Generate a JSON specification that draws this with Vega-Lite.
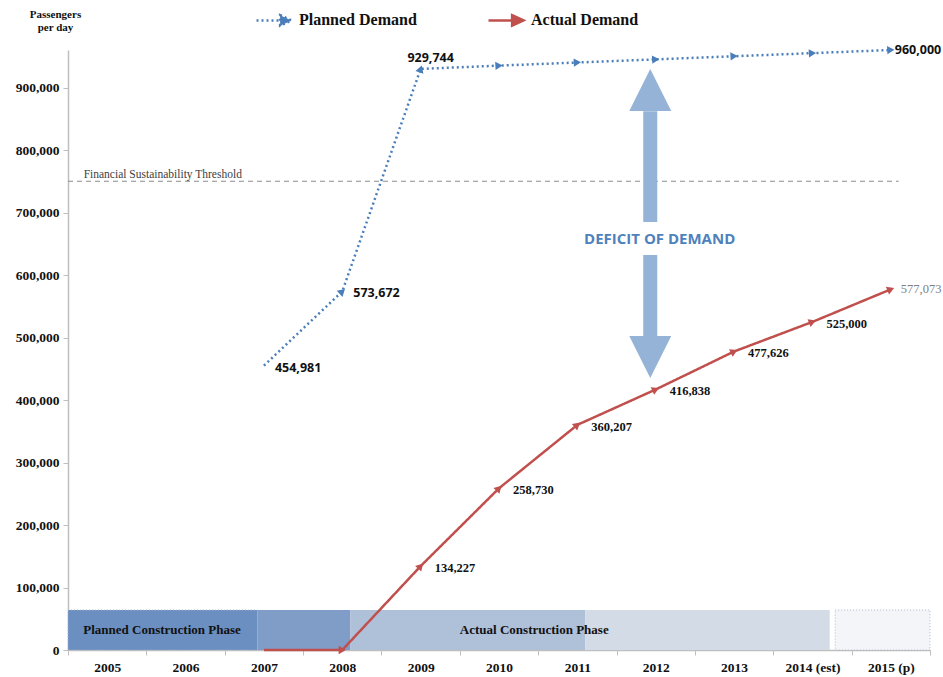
{
  "$schema": "https://vega.github.io/schema/vega-lite/v6.json",
  "width": 862,
  "height": 600,
  "autosize": {"type": "none"},
  "padding": {"left": 68, "top": 50, "right": 13, "bottom": 27},
  "background": "white",
  "config": {
    "view": {"stroke": null},
    "font": "Liberation Serif",
    "axis": {"grid": false}
  },
  "datasets": {
    "demand": [
      {"year": "2007", "series": "Planned Demand", "value": 454981},
      {"year": "2008", "series": "Planned Demand", "value": 573672},
      {"year": "2009", "series": "Planned Demand", "value": 929744},
      {"year": "2010", "series": "Planned Demand", "value": 935000},
      {"year": "2011", "series": "Planned Demand", "value": 940000},
      {"year": "2012", "series": "Planned Demand", "value": 945000},
      {"year": "2013", "series": "Planned Demand", "value": 950000},
      {"year": "2014 (est)", "series": "Planned Demand", "value": 955000},
      {"year": "2015 (p)", "series": "Planned Demand", "value": 960000},
      {"year": "2007", "series": "Actual Demand", "value": 0},
      {"year": "2008", "series": "Actual Demand", "value": 0},
      {"year": "2009", "series": "Actual Demand", "value": 134227},
      {"year": "2010", "series": "Actual Demand", "value": 258730},
      {"year": "2011", "series": "Actual Demand", "value": 360207},
      {"year": "2012", "series": "Actual Demand", "value": 416838},
      {"year": "2013", "series": "Actual Demand", "value": 477626},
      {"year": "2014 (est)", "series": "Actual Demand", "value": 525000},
      {"year": "2015 (p)", "series": "Actual Demand", "value": 577073}
    ],
    "phases": [
      {"seg": "Planned only", "start": 0, "end": 2.42},
      {"seg": "Overlap", "start": 2.42, "end": 3.6},
      {"seg": "Actual to 2011", "start": 3.6, "end": 6.6},
      {"seg": "Actual to 2014", "start": 6.6, "end": 9.72},
      {"seg": "Projected", "start": 9.79, "end": 11.0}
    ],
    "phaseLabels": [
      {"label": "Planned Construction Phase", "at": 1.2},
      {"label": "Actual Construction Phase", "at": 5.95}
    ]
  },
  "layer": [
    {
      "layer": [
        {
          "data": {"name": "phases"},
          "mark": {"type": "rect", "strokeDash": [1, 2], "strokeWidth": 1},
          "encoding": {
            "x": {"field": "start", "type": "quantitative", "scale": {"domain": [0, 11], "nice": false, "zero": false}, "axis": null},
            "x2": {"field": "end"},
            "y": {
              "datum": 0, "type": "quantitative", "scale": {"domain": [0, 960000], "nice": false},
              "axis": {
                "title": ["Passengers", "per day"], "titleAngle": 0, "titleX": -13, "titleY": -42,
                "titleAlign": "center", "titleBaseline": "top", "titleFont": "Liberation Serif", "titleFontWeight": "bold",
                "titleFontSize": 11, "titleLineHeight": 13, "titleColor": "#111111",
                "values": [0, 100000, 200000, 300000, 400000, 500000, 600000, 700000, 800000, 900000],
                "labelExpr": "format(datum.value, ',')", "labelFont": "Liberation Serif", "labelFontWeight": "bold", "labelFontSize": 13.5,
                "labelColor": "#111111", "labelPadding": 4, "tickSize": 5, "tickColor": "#bfbfbf", "domainColor": "#bfbfbf", "domainWidth": 1.5
              }
            },
            "y2": {"datum": 64000},
            "color": {
              "field": "seg", "type": "nominal", "legend": null,
              "scale": {
                "domain": ["Planned only", "Overlap", "Actual to 2011", "Actual to 2014", "Projected"],
                "range": ["#6a8fc0", "#7f9dc6", "#afc0d9", "#d3dbe7", "#f4f5f8"]
              }
            },
            "stroke": {"condition": {"test": "datum.seg === 'Projected' || datum.seg === 'Planned only'", "value": "#a9b8cc"}, "value": null}
          }
        },
        {
          "data": {"name": "phaseLabels"},
          "mark": {"type": "text", "font": "Liberation Serif", "fontWeight": "bold", "fontSize": 13, "color": "#111111", "baseline": "middle", "align": "center"},
          "encoding": {
            "x": {"field": "at", "type": "quantitative"},
            "y": {"datum": 32000, "type": "quantitative"},
            "text": {"field": "label"}
          }
        },
        {
          "data": {"values": [{"note": "Financial Sustainability Threshold"}]},
          "mark": {"type": "rule", "color": "#8c8c8c", "strokeDash": [5, 4], "strokeWidth": 1.2},
          "encoding": {
            "x": {"datum": 0, "type": "quantitative"},
            "x2": {"datum": 10.6},
            "y": {"datum": 750000, "type": "quantitative"}
          }
        },
        {
          "data": {"values": [{"note": "Financial Sustainability Threshold"}]},
          "mark": {"type": "text", "font": "Liberation Serif", "fontSize": 11.5, "color": "#404040", "align": "left", "baseline": "bottom", "dy": -1},
          "encoding": {
            "x": {"datum": 0.2, "type": "quantitative"},
            "y": {"datum": 750000, "type": "quantitative"},
            "text": {"field": "note"}
          }
        },
        {
          "data": {"values": [{"part": "upper shaft", "from": 862000, "to": 684800}, {"part": "lower shaft", "from": 632000, "to": 502000}]},
          "mark": {"type": "rule", "color": "#95b3d7", "strokeWidth": 14},
          "encoding": {
            "x": {"datum": 7.43, "type": "quantitative"},
            "y": {"field": "from", "type": "quantitative"},
            "y2": {"field": "to"}
          }
        },
        {
          "data": {"values": [{"part": "up head"}]},
          "mark": {"type": "point", "shape": "M0,-1L1,1L-1,1Z", "filled": true, "color": "#95b3d7", "opacity": 1, "size": 1764},
          "encoding": {
            "x": {"datum": 7.43, "type": "quantitative"},
            "y": {"datum": 896000, "type": "quantitative"}
          }
        },
        {
          "data": {"values": [{"part": "down head"}]},
          "mark": {"type": "point", "shape": "M0,1L1,-1L-1,-1Z", "filled": true, "color": "#95b3d7", "opacity": 1, "size": 1764},
          "encoding": {
            "x": {"datum": 7.43, "type": "quantitative"},
            "y": {"datum": 468800, "type": "quantitative"}
          }
        },
        {
          "data": {"values": [{"note": "DEFICIT OF DEMAND"}]},
          "mark": {"type": "text", "font": "Open Sans", "fontWeight": "bold", "fontSize": 15, "color": "#4f81bd", "align": "center", "baseline": "middle"},
          "encoding": {
            "x": {"datum": 7.55, "type": "quantitative"},
            "y": {"datum": 657600, "type": "quantitative"},
            "text": {"field": "note"}
          }
        }
      ]
    },
    {
      "data": {"name": "demand"},
      "encoding": {
        "x": {
          "field": "year", "type": "ordinal",
          "scale": {"type": "band", "paddingInner": 0, "paddingOuter": 0,
            "domain": ["2005", "2006", "2007", "2008", "2009", "2010", "2011", "2012", "2013", "2014 (est)", "2015 (p)"]},
          "axis": {
            "orient": "bottom",
            "title": null, "tickBand": "extent", "labelAngle": 0,
            "labelFont": "Liberation Serif", "labelFontWeight": "bold", "labelFontSize": 13.5, "labelColor": "#111111",
            "labelPadding": 5, "tickSize": 5, "tickColor": "#bfbfbf", "domainColor": "#bfbfbf", "domainWidth": 1.5
          }
        },
        "y": {
          "field": "value", "type": "quantitative",
          "scale": {"domain": [0, 960000], "nice": false},
          "axis": {
            "title": ["Passengers", "per day"], "titleAngle": 0, "titleX": -13, "titleY": -42,
            "titleAlign": "center", "titleBaseline": "top", "titleFont": "Liberation Serif", "titleFontWeight": "bold",
            "titleFontSize": 11, "titleLineHeight": 13, "titleColor": "#111111",
            "values": [0, 100000, 200000, 300000, 400000, 500000, 600000, 700000, 800000, 900000],
            "labelExpr": "format(datum.value, ',')", "labelFont": "Liberation Serif", "labelFontWeight": "bold", "labelFontSize": 13.5,
            "labelColor": "#111111", "labelPadding": 4, "tickSize": 5, "tickColor": "#bfbfbf", "domainColor": "#bfbfbf", "domainWidth": 1.5
          }
        }
      },
      "layer": [
        {
          "mark": {"type": "line", "strokeWidth": 2.5},
          "encoding": {
            "stroke": {
              "field": "series", "type": "nominal",
              "scale": {"domain": ["Planned Demand", "Actual Demand"], "range": ["#4a7ebb", "#c0504d"]},
              "legend": {
                "title": null, "orient": "none", "legendX": 187, "legendY": -49, "direction": "horizontal",
                "symbolType": "M-1,0L0.5,0M0.35,-0.3L1,0L0.35,0.3Z", "symbolSize": 1225, "symbolStrokeWidth": 2.5,
                "labelFont": "Liberation Serif", "labelFontWeight": "bold", "labelFontSize": 16, "labelColor": "#111111",
                "labelOffset": 6, "columnPadding": 66,
                "encode": {"symbols": {"update": {"fill": {"scale": "stroke", "field": "value"}}}}
              }
            },
            "strokeDash": {
              "field": "series", "type": "nominal",
              "scale": {"domain": ["Planned Demand", "Actual Demand"], "range": [[2, 3], [1, 0]]},
              "legend": {
                "title": null, "orient": "none", "legendX": 187, "legendY": -49, "direction": "horizontal",
                "symbolType": "M-1,0L0.5,0M0.35,-0.3L1,0L0.35,0.3Z", "symbolSize": 1225, "symbolStrokeWidth": 2.5,
                "labelFont": "Liberation Serif", "labelFontWeight": "bold", "labelFontSize": 16, "labelColor": "#111111",
                "labelOffset": 6, "columnPadding": 66
              }
            }
          }
        },
        {
          "transform": [{"filter": "datum.year !== '2007'"}],
          "mark": {"type": "point", "shape": "triangle-right", "filled": true, "size": 70, "opacity": 1},
          "encoding": {
            "fill": {
              "field": "series", "type": "nominal", "legend": null,
              "scale": {"domain": ["Planned Demand", "Actual Demand"], "range": ["#4a7ebb", "#c0504d"]}
            },
            "angle": {
              "condition": [
                {"test": "datum.series === 'Planned Demand' && datum.year === '2008'", "value": -43},
                {"test": "datum.series === 'Planned Demand' && datum.year === '2009'", "value": -71},
                {"test": "datum.series === 'Planned Demand'", "value": -3},
                {"test": "datum.year === '2008'", "value": 0},
                {"test": "datum.year === '2009'", "value": -47},
                {"test": "datum.year === '2010'", "value": -45},
                {"test": "datum.year === '2011'", "value": -39},
                {"test": "datum.year === '2012'", "value": -24},
                {"test": "datum.year === '2013'", "value": -26},
                {"test": "datum.year === '2014 (est)'", "value": -21}
              ],
              "value": -22
            }
          }
        },
        {
          "transform": [{"filter": "datum.series === 'Planned Demand' && (datum.year === '2007' || datum.year === '2008')"}],
          "mark": {"type": "text", "font": "Open Sans", "fontWeight": "bold", "fontSize": 12.5, "color": "#111111", "align": "left", "baseline": "middle", "dx": 11, "dy": 2},
          "encoding": {"text": {"field": "value", "type": "quantitative", "format": ","}}
        },
        {
          "transform": [{"filter": "datum.series === 'Planned Demand' && datum.year === '2015 (p)'"}],
          "mark": {"type": "text", "font": "Open Sans", "fontWeight": "bold", "fontSize": 12.5, "color": "#111111", "align": "left", "baseline": "middle", "dx": 4, "dy": 0},
          "encoding": {"text": {"field": "value", "type": "quantitative", "format": ","}}
        },
        {
          "transform": [{"filter": "datum.series === 'Planned Demand' && datum.year === '2009'"}],
          "mark": {"type": "text", "font": "Open Sans", "fontWeight": "bold", "fontSize": 12.5, "color": "#111111", "align": "center", "baseline": "middle", "dx": 10, "dy": -11},
          "encoding": {"text": {"field": "value", "type": "quantitative", "format": ","}}
        },
        {
          "transform": [{"filter": "datum.series === 'Actual Demand' && datum.value > 0 && datum.year !== '2015 (p)'"}],
          "mark": {"type": "text", "font": "Liberation Serif", "fontWeight": "bold", "fontSize": 12.5, "color": "#111111", "align": "left", "baseline": "middle", "dx": 14, "dy": 2},
          "encoding": {"text": {"field": "value", "type": "quantitative", "format": ","}}
        },
        {
          "transform": [{"filter": "datum.series === 'Actual Demand' && datum.year === '2015 (p)'"}],
          "mark": {"type": "text", "font": "Liberation Serif", "fontSize": 12.5, "color": "#808080", "align": "left", "baseline": "middle", "dx": 10, "dy": 0},
          "encoding": {"text": {"field": "value", "type": "quantitative", "format": ","}}
        }
      ]
    }
  ],
  "resolve": {"scale": {"x": "independent"}}
}
